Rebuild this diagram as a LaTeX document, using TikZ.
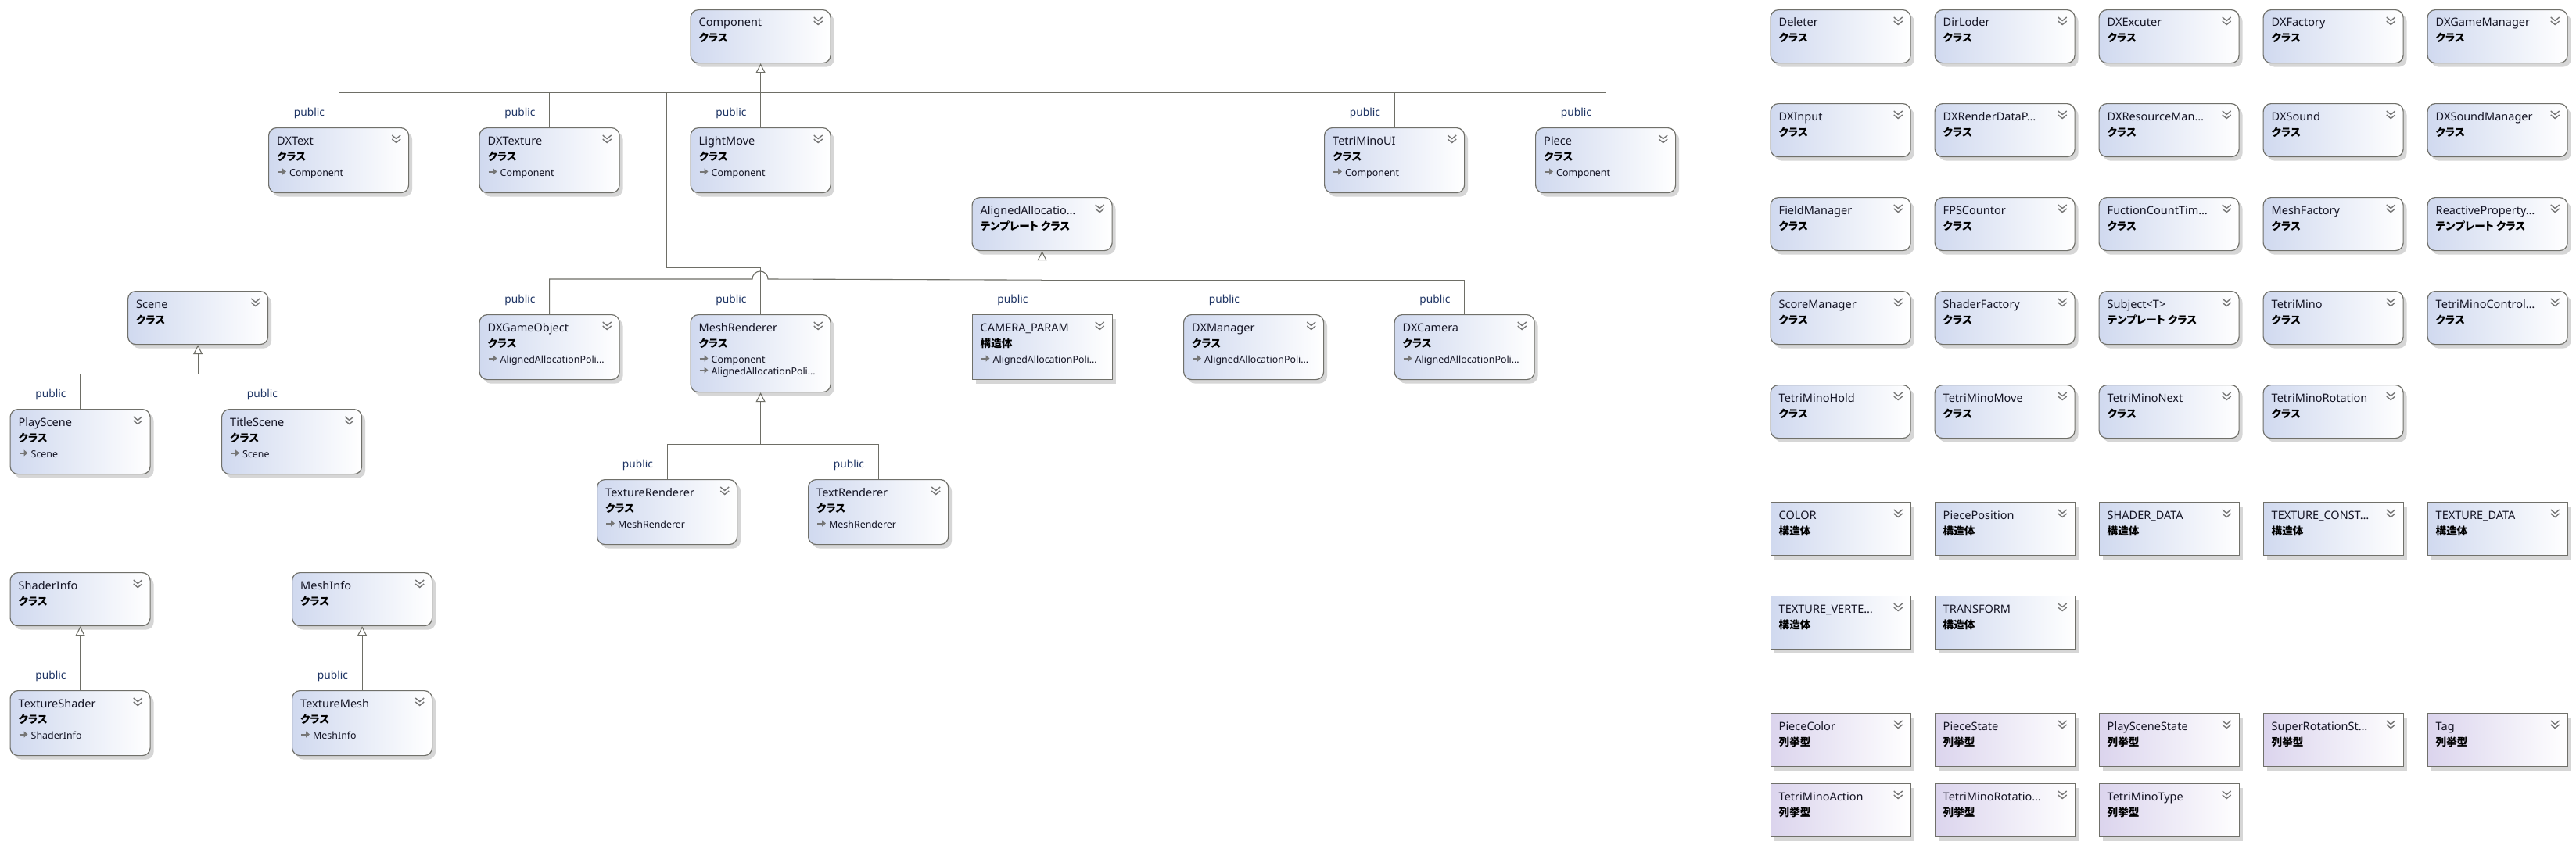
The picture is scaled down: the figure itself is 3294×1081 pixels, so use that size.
\documentclass[tikz,border=0pt]{standalone}
\usepackage{fontspec}
\setmainfont{Noto Sans}
\newfontfamily\jpfont[RawFeature=+palt]{Noto Sans CJK JP}
\usetikzlibrary{arrows.meta,shadows}

\definecolor{boxline}{RGB}{112,112,106}
\definecolor{clsblue}{RGB}{208,217,239}
\definecolor{enumlav}{RGB}{219,212,237}
\definecolor{conncol}{RGB}{110,110,102}
\definecolor{nametext}{RGB}{20,20,36}
\definecolor{pubtext}{RGB}{30,52,100}
\definecolor{shadowgray}{RGB}{214,214,214}
\definecolor{chevgray}{RGB}{118,118,118}

\tikzset{
  typebox/.style={draw=boxline, line width=1.2pt, anchor=north west, inner sep=0pt,
    minimum width=179pt, left color=clsblue, right color=white,
    drop shadow={shadow xshift=4.5pt, shadow yshift=-5pt, fill=shadowgray, opacity=1}},
  classbox/.style={typebox, rounded corners=10pt},
  structbox/.style={typebox},
  enumbox/.style={typebox, left color=enumlav},
  titletext/.style={anchor=base west, inner sep=0pt, text=nametext, font=\fontsize{14.5}{16}\selectfont},
  kindtext/.style={anchor=base west, inner sep=0pt, text=black, font=\jpfont\bfseries\fontsize{13.6}{15}\selectfont},
  basetext/.style={anchor=base west, inner sep=0pt, text=nametext, font=\fontsize{12.4}{14}\selectfont},
  publbl/.style={anchor=east, inner sep=0pt, text=pubtext, font=\fontsize{13.7}{15}\selectfont},
  chev/.style={draw=chevgray, line width=1.4pt},
  basearr/.style={draw=chevgray, line width=2pt, -{Triangle[length=5pt,width=8pt]}},
  conn/.style={draw=conncol, line width=1.1pt},
  inh/.style={conn, -{Triangle[length=12pt,width=12pt,fill=white]}},
}

% style, node, x, y, height, title, kind
\newcommand{\typebox}[7]{%
  \node[#1, minimum height=#5pt] (#2) at (#3,#4) {};
  \node[titletext] (#2-t) at ([xshift=11pt,yshift=-22pt]#2.north west) {#6};
  \node[kindtext] (#2-k) at ([xshift=11pt,yshift=-42pt]#2.north west) {#7};
  \draw[chev] ([xshift=-22pt,yshift=-10pt]#2.north east) -- ++(5.5pt,-4.5pt) -- ++(5.5pt,4.5pt);
  \draw[chev] ([xshift=-22pt,yshift=-15pt]#2.north east) -- ++(5.5pt,-4.5pt) -- ++(5.5pt,4.5pt);
}
% node, line, base name
\newcommand{\baseref}[3]{%
  \draw[basearr] ([xshift=12pt,yshift={-56.5pt-15pt*(#2-1)}]#1.north west) -- ++(11pt,0);
  \node[basetext] (#1-b#2) at ([xshift=27pt,yshift={-62pt-15pt*(#2-1)}]#1.north west) {#3};
}

\begin{document}
\begin{tikzpicture}[x=1pt, y=-1pt]
  \useasboundingbox (0,0) rectangle (3294,1081);
  \fill[white] (0,0) rectangle (3294,1081);

  % Component tree
  \typebox{classbox}{comp}{882.5}{12}{68}{Component}{クラス}
  \typebox{classbox}{dxtext}{343}{163}{83}{DXText}{クラス}
  \baseref{dxtext}{1}{Component}
  \typebox{classbox}{dxtexture}{612.5}{163}{83}{DXTexture}{クラス}
  \baseref{dxtexture}{1}{Component}
  \typebox{classbox}{lightmove}{882.5}{163}{83}{LightMove}{クラス}
  \baseref{lightmove}{1}{Component}
  \typebox{classbox}{tetrimui}{1693}{163}{83}{TetriMinoUI}{クラス}
  \baseref{tetrimui}{1}{Component}
  \typebox{classbox}{piece}{1963}{163}{83}{Piece}{クラス}
  \baseref{piece}{1}{Component}

  % AlignedAllocation tree
  \typebox{classbox}{aa}{1242.5}{252}{68}{AlignedAllocatio…}{テンプレート クラス}
  \typebox{classbox}{dxgo}{612.5}{402}{83}{DXGameObject}{クラス}
  \baseref{dxgo}{1}{AlignedAllocationPoli…}
  \typebox{classbox}{meshr}{882.5}{402}{99}{MeshRenderer}{クラス}
  \baseref{meshr}{1}{Component}
  \baseref{meshr}{2}{AlignedAllocationPoli…}
  \typebox{structbox}{campar}{1242.5}{402}{83}{CAMERA\_PARAM}{構造体}
  \baseref{campar}{1}{AlignedAllocationPoli…}
  \typebox{classbox}{dxmgr}{1513}{402}{83}{DXManager}{クラス}
  \baseref{dxmgr}{1}{AlignedAllocationPoli…}
  \typebox{classbox}{dxcam}{1782.5}{402}{83}{DXCamera}{クラス}
  \baseref{dxcam}{1}{AlignedAllocationPoli…}
  \typebox{classbox}{texr}{763}{613}{83}{TextureRenderer}{クラス}
  \baseref{texr}{1}{MeshRenderer}
  \typebox{classbox}{txtr}{1033}{613}{83}{TextRenderer}{クラス}
  \baseref{txtr}{1}{MeshRenderer}

  % Scene, ShaderInfo, MeshInfo
  \typebox{classbox}{scene}{163}{372}{68}{Scene}{クラス}
  \typebox{classbox}{plays}{12.5}{523}{83}{PlayScene}{クラス}
  \baseref{plays}{1}{Scene}
  \typebox{classbox}{titles}{283}{523}{83}{TitleScene}{クラス}
  \baseref{titles}{1}{Scene}
  \typebox{classbox}{shinfo}{12.5}{732}{68}{ShaderInfo}{クラス}
  \typebox{classbox}{texsh}{12.5}{883}{83}{TextureShader}{クラス}
  \baseref{texsh}{1}{ShaderInfo}
  \typebox{classbox}{meshinfo}{373}{732}{68}{MeshInfo}{クラス}
  \typebox{classbox}{texmesh}{373}{883}{83}{TextureMesh}{クラス}
  \baseref{texmesh}{1}{MeshInfo}

  % stand-alone classes
  \typebox{classbox}{deleter}{2263.5}{12}{68}{Deleter}{クラス}
  \typebox{classbox}{dirloder}{2473.5}{12}{68}{DirLoder}{クラス}
  \typebox{classbox}{dxexec}{2683.5}{12}{68}{DXExcuter}{クラス}
  \typebox{classbox}{dxfact}{2893.5}{12}{68}{DXFactory}{クラス}
  \typebox{classbox}{dxgmgr}{3103.5}{12}{68}{DXGameManager}{クラス}
  \typebox{classbox}{dxinput}{2263.5}{132}{68}{DXInput}{クラス}
  \typebox{classbox}{dxrdp}{2473.5}{132}{68}{DXRenderDataP…}{クラス}
  \typebox{classbox}{dxresm}{2683.5}{132}{68}{DXResourceMan…}{クラス}
  \typebox{classbox}{dxsound}{2893.5}{132}{68}{DXSound}{クラス}
  \typebox{classbox}{dxsmgr}{3103.5}{132}{68}{DXSoundManager}{クラス}
  \typebox{classbox}{fieldmgr}{2263.5}{252}{68}{FieldManager}{クラス}
  \typebox{classbox}{fpsc}{2473.5}{252}{68}{FPSCountor}{クラス}
  \typebox{classbox}{fctimer}{2683.5}{252}{68}{FuctionCountTim…}{クラス}
  \typebox{classbox}{meshfact}{2893.5}{252}{68}{MeshFactory}{クラス}
  \typebox{classbox}{reactp}{3103.5}{252}{68}{ReactiveProperty…}{テンプレート クラス}
  \typebox{classbox}{scoremgr}{2263.5}{372}{68}{ScoreManager}{クラス}
  \typebox{classbox}{shfact}{2473.5}{372}{68}{ShaderFactory}{クラス}
  \typebox{classbox}{subject}{2683.5}{372}{68}{Subject<T>}{テンプレート クラス}
  \typebox{classbox}{tetrimino}{2893.5}{372}{68}{TetriMino}{クラス}
  \typebox{classbox}{tmctrl}{3103.5}{372}{68}{TetriMinoControl…}{クラス}
  \typebox{classbox}{tmhold}{2263.5}{492}{68}{TetriMinoHold}{クラス}
  \typebox{classbox}{tmmove}{2473.5}{492}{68}{TetriMinoMove}{クラス}
  \typebox{classbox}{tmnext}{2683.5}{492}{68}{TetriMinoNext}{クラス}
  \typebox{classbox}{tmrot}{2893.5}{492}{68}{TetriMinoRotation}{クラス}

  % structs
  \typebox{structbox}{color}{2263.5}{642}{68}{COLOR}{構造体}
  \typebox{structbox}{piecepos}{2473.5}{642}{68}{PiecePosition}{構造体}
  \typebox{structbox}{shdata}{2683.5}{642}{68}{SHADER\_DATA}{構造体}
  \typebox{structbox}{texconst}{2893.5}{642}{68}{TEXTURE\_CONST…}{構造体}
  \typebox{structbox}{texdata}{3103.5}{642}{68}{TEXTURE\_DATA}{構造体}
  \typebox{structbox}{texvert}{2263.5}{762}{68}{TEXTURE\_VERTE…}{構造体}
  \typebox{structbox}{transf}{2473.5}{762}{68}{TRANSFORM}{構造体}

  % enums
  \typebox{enumbox}{piececol}{2263.5}{912}{68}{PieceColor}{列挙型}
  \typebox{enumbox}{piecest}{2473.5}{912}{68}{PieceState}{列挙型}
  \typebox{enumbox}{psstate}{2683.5}{912}{68}{PlaySceneState}{列挙型}
  \typebox{enumbox}{superrot}{2893.5}{912}{68}{SuperRotationSt…}{列挙型}
  \typebox{enumbox}{tag}{3103.5}{912}{68}{Tag}{列挙型}
  \typebox{enumbox}{tmaction}{2263.5}{1002}{68}{TetriMinoAction}{列挙型}
  \typebox{enumbox}{tmrotst}{2473.5}{1002}{68}{TetriMinoRotatio…}{列挙型}
  \typebox{enumbox}{tmtype}{2683.5}{1002}{68}{TetriMinoType}{列挙型}

  % inheritance lines
  \coordinate (cbus) at ([yshift=-37.3pt]comp.south);
  \coordinate (mrbend) at (852.5,342.3);
  \coordinate (abus) at ([yshift=-37pt]aa.south);
  \coordinate (hopl) at (962,357);
  \coordinate (sbus) at ([yshift=-37pt]scene.south);
  \coordinate (mbus) at ([yshift=-66.5pt]meshr.south);

  \draw[inh] (cbus) -- (comp.south);
  \draw[conn] (dxtext.north) |- (cbus);
  \draw[conn] (dxtexture.north) |- (cbus);
  \draw[conn] (lightmove.north) -- (cbus);
  \draw[conn] (tetrimui.north) |- (cbus);
  \draw[conn] (piece.north) |- (cbus);
  \draw[conn] (meshr.north) |- (mrbend) |- (cbus);

  \draw[inh] (abus) -- (aa.south);
  \draw[conn] (campar.north) -- (abus);
  \draw[conn] (dxgo.north) |- (hopl) arc[start angle=180, end angle=0, radius=10pt] -- (abus);
  \draw[conn] (dxmgr.north) |- (abus);
  \draw[conn] (dxcam.north) |- (abus);

  \draw[inh] (mbus) -- (meshr.south);
  \draw[conn] (texr.north) |- (mbus);
  \draw[conn] (txtr.north) |- (mbus);

  \draw[inh] (sbus) -- (scene.south);
  \draw[conn] (plays.north) |- (sbus);
  \draw[conn] (titles.north) |- (sbus);

  \draw[inh] (texsh.north) -- (shinfo.south);
  \draw[inh] (texmesh.north) -- (meshinfo.south);

  % access labels
  \foreach \c in {dxtext,dxtexture,lightmove,tetrimui,piece,dxgo,meshr,campar,dxmgr,dxcam,texr,txtr,plays,titles,texsh,texmesh}
    \node[publbl] (pub-\c) at ([xshift=-18pt,yshift=18.3pt]\c.north) {public};
\end{tikzpicture}
\end{document}
